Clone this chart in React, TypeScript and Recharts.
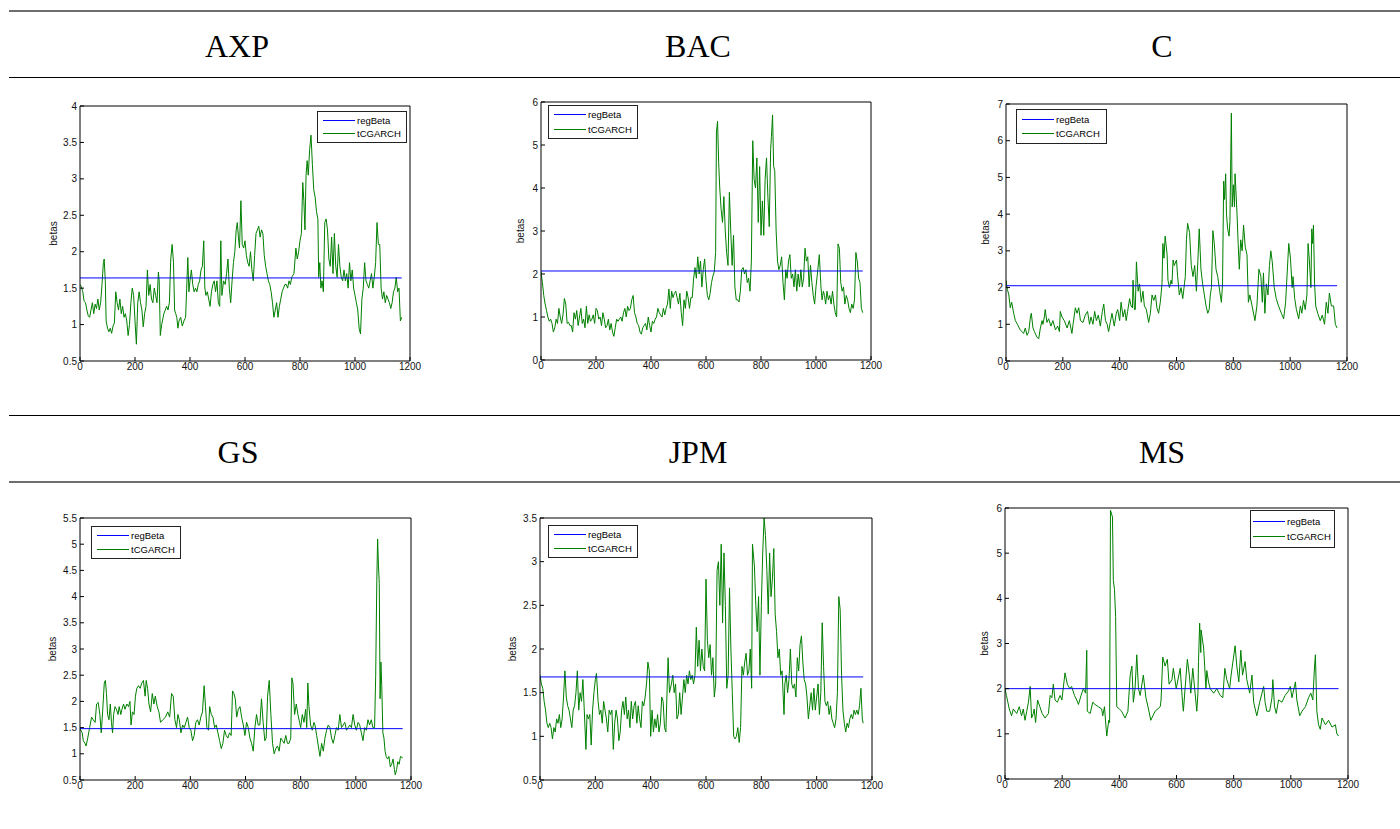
import React from 'react'
import { LineChart, Line, XAxis, YAxis, Legend } from 'recharts'

type Pt = [number, number]

// x ticks shared by all six panels
const xTicks = [0, 200, 400, 600, 800, 1000, 1200]

// regression beta (flat line) per ticker
const axpReg = 1.64
const bacReg = 2.07
const cReg = 2.05
const gsReg = 1.48
const jpmReg = 1.68
const msReg = 2.0

// y ticks
const ticksHalfTo4 = [0.5, 1, 1.5, 2, 2.5, 3, 3.5, 4]
const ticks0To6 = [0, 1, 2, 3, 4, 5, 6]
const ticks0To7 = [0, 1, 2, 3, 4, 5, 6, 7]
const ticksHalfTo55 = [0.5, 1, 1.5, 2, 2.5, 3, 3.5, 4, 4.5, 5, 5.5]
const ticksHalfTo35 = [0.5, 1, 1.5, 2, 2.5, 3, 3.5]

// tCGARCH betas, [day, beta]
const axpBeta: Pt[] = [
   [0, 1.55], [5, 1.52], [10, 1.45], [15, 1.32], [20, 1.3], [25, 1.2], [30, 1.12], [35, 1.1], [40, 1.2], [45, 1.3],
   [50, 1.15], [55, 1.28], [60, 1.22], [65, 1.35], [70, 1.2], [75, 1.3], [80, 1.55], [85, 1.85], [88, 1.9], [92, 1.6],
   [95, 1.05], [100, 0.95], [105, 0.9], [110, 0.95], [115, 0.88], [120, 0.98], [125, 1.02], [130, 1.45], [135, 1.3],
   [140, 1.2], [145, 1.35], [150, 1.15], [155, 1.25], [160, 1.1], [165, 1.15], [170, 1.05], [175, 0.85], [180, 1.0],
   [185, 1.3], [190, 1.5], [195, 1.4], [200, 1.05], [205, 0.73], [210, 1.3], [215, 1.45], [220, 1.3], [225, 1.2],
   [230, 0.97], [235, 1.15], [240, 1.25], [245, 1.75], [250, 1.4], [255, 1.55], [260, 1.35], [265, 1.3], [270, 1.5],
   [275, 1.4], [280, 1.3], [285, 1.72], [288, 1.6], [292, 0.85], [297, 1.0], [305, 1.15], [310, 1.2], [315, 1.25],
   [320, 1.2], [325, 1.3], [330, 1.9], [335, 2.1], [340, 1.85], [344, 1.2], [348, 1.15], [352, 1.1], [356, 0.95],
   [360, 1.05], [366, 1.1], [372, 0.98], [378, 1.05], [384, 1.1], [388, 1.5], [392, 1.92], [396, 1.45], [400, 1.6],
   [405, 1.75], [410, 1.55], [415, 1.45], [420, 1.5], [425, 1.45], [430, 1.55], [435, 1.6], [440, 1.75], [445, 1.8],
   [450, 2.15], [454, 1.5], [458, 1.4], [463, 1.45], [468, 1.35], [473, 1.25], [478, 1.45], [483, 1.55], [488, 1.6],
   [493, 1.45], [498, 1.6], [503, 1.3], [508, 1.25], [512, 2.15], [516, 1.4], [522, 1.6], [528, 1.55], [533, 1.7],
   [538, 1.9], [543, 1.5], [548, 1.3], [553, 1.6], [558, 1.85], [563, 2.0], [568, 2.3], [572, 2.4], [576, 2.2],
   [580, 2.05], [585, 2.7], [590, 2.1], [595, 2.05], [600, 2.15], [605, 1.95], [610, 1.85], [615, 1.8], [620, 2.0],
   [625, 1.75], [630, 1.6], [635, 1.95], [640, 2.25], [645, 2.3], [650, 2.35], [655, 2.2], [660, 2.3], [665, 2.25],
   [670, 1.95], [675, 1.8], [680, 1.7], [685, 1.6], [690, 1.55], [695, 1.45], [700, 1.3], [705, 1.1], [710, 1.2],
   [715, 1.3], [720, 1.1], [725, 1.25], [730, 1.35], [735, 1.45], [740, 1.5], [745, 1.55], [750, 1.55], [755, 1.5],
   [760, 1.6], [765, 1.55], [770, 1.65], [778, 1.7], [785, 2.05], [790, 1.9], [795, 2.0], [800, 2.15], [805, 2.25],
   [810, 2.95], [814, 2.7], [818, 2.3], [822, 3.05], [826, 3.25], [830, 3.05], [835, 3.4], [840, 3.6], [845, 3.2],
   [850, 2.85], [855, 2.75], [860, 2.55], [865, 2.45], [868, 1.65], [872, 1.85], [876, 1.5], [880, 1.6], [885, 1.45],
   [890, 2.4], [895, 2.45], [900, 2.3], [905, 1.9], [910, 1.8], [915, 2.2], [920, 1.7], [925, 2.25], [930, 1.8],
   [935, 1.65], [940, 2.1], [945, 1.8], [950, 1.65], [955, 1.6], [960, 1.75], [965, 1.6], [970, 1.7], [975, 1.5],
   [980, 1.85], [985, 1.6], [990, 1.75], [995, 1.5], [1000, 1.4], [1005, 1.3], [1010, 1.2], [1015, 0.95], [1020, 0.87],
   [1025, 1.35], [1030, 1.5], [1035, 1.85], [1040, 1.6], [1045, 1.55], [1050, 1.5], [1055, 1.6], [1060, 1.7],
   [1065, 1.5], [1070, 1.65], [1075, 1.85], [1080, 2.4], [1085, 2.1], [1090, 2.1], [1095, 1.5], [1100, 1.35],
   [1105, 1.45], [1110, 1.3], [1115, 1.4], [1120, 1.35], [1125, 1.3], [1130, 1.22], [1135, 1.3], [1140, 1.45],
   [1145, 1.5], [1150, 1.65], [1155, 1.45], [1160, 1.5], [1165, 1.05], [1170, 1.1],
]

const bacBeta: Pt[] = [
   [0, 2.05], [5, 1.8], [10, 1.5], [15, 1.3], [20, 1.15], [25, 1.0], [30, 0.9], [35, 0.95], [40, 0.85], [45, 0.65],
   [50, 0.75], [55, 0.95], [60, 0.85], [65, 1.2], [70, 1.0], [75, 0.85], [80, 1.05], [85, 1.43], [90, 1.3], [95, 0.85],
   [100, 0.88], [105, 0.8], [110, 0.8], [115, 0.65], [120, 1.1], [125, 0.95], [130, 1.15], [135, 0.8], [140, 1.0],
   [145, 1.2], [150, 0.85], [155, 0.95], [160, 0.75], [165, 1.25], [170, 0.85], [175, 1.05], [180, 0.9], [185, 0.95],
   [190, 1.05], [195, 0.85], [200, 1.2], [205, 1.15], [210, 0.95], [215, 1.0], [220, 0.8], [225, 1.1], [230, 0.95],
   [235, 0.75], [240, 0.8], [245, 0.95], [250, 0.7], [255, 0.85], [260, 0.65], [265, 0.55], [270, 0.75], [275, 0.95],
   [280, 0.9], [285, 0.95], [290, 1.0], [295, 0.9], [300, 1.1], [305, 1.2], [310, 1.0], [315, 1.25], [320, 1.15],
   [325, 1.2], [330, 1.4], [335, 1.5], [340, 1.1], [345, 1.0], [350, 0.85], [355, 0.8], [360, 0.65], [365, 0.6],
   [370, 0.75], [375, 0.8], [380, 0.85], [385, 0.7], [390, 1.0], [395, 0.8], [400, 0.65], [405, 0.9], [410, 0.85],
   [415, 0.95], [420, 1.0], [425, 1.2], [430, 1.1], [435, 1.05], [440, 1.0], [445, 1.2], [450, 1.05], [455, 1.2],
   [460, 1.3], [465, 1.65], [470, 1.2], [475, 1.6], [480, 1.45], [485, 1.55], [490, 1.6], [495, 1.45], [500, 1.3],
   [505, 1.55], [510, 1.1], [515, 0.8], [520, 1.4], [525, 1.2], [530, 1.6], [535, 1.45], [540, 1.2], [545, 1.45],
   [550, 1.45], [555, 1.9], [560, 2.15], [565, 1.9], [570, 2.4], [575, 2.0], [580, 2.3], [585, 1.7], [590, 2.1],
   [595, 2.35], [600, 1.85], [605, 1.5], [610, 1.4], [615, 1.55], [620, 1.8], [625, 1.95], [630, 2.05], [635, 2.5],
   [638, 5.3], [642, 5.55], [646, 4.6], [650, 4.0], [655, 3.5], [660, 3.2], [665, 3.8], [670, 3.0], [675, 2.5],
   [680, 2.2], [685, 3.9], [690, 3.0], [695, 2.2], [700, 2.9], [705, 1.7], [710, 1.4], [715, 1.4], [720, 1.35],
   [725, 1.6], [730, 2.1], [735, 2.15], [740, 2.0], [745, 2.1], [750, 1.8], [755, 1.9], [760, 1.6], [765, 2.3],
   [770, 5.1], [775, 4.2], [780, 4.0], [785, 4.7], [790, 3.2], [795, 4.5], [800, 2.9], [805, 3.7], [810, 2.9],
   [815, 4.2], [820, 4.7], [825, 3.8], [830, 3.1], [835, 4.9], [838, 5.2], [842, 5.7], [846, 4.5], [850, 4.4],
   [855, 3.0], [860, 2.3], [865, 2.1], [870, 2.2], [875, 2.4], [880, 1.8], [885, 1.4], [890, 2.1], [895, 1.9],
   [900, 2.3], [905, 2.45], [910, 1.9], [915, 2.0], [920, 1.7], [925, 2.1], [930, 1.6], [935, 2.0], [940, 1.7],
   [945, 2.1], [950, 1.7], [955, 1.9], [960, 2.6], [965, 2.3], [970, 2.4], [975, 1.7], [980, 2.2], [985, 1.8],
   [990, 1.5], [995, 1.3], [1000, 1.7], [1005, 2.0], [1012, 2.45], [1018, 1.7], [1022, 1.4], [1027, 1.6], [1031, 1.5],
   [1035, 1.3], [1040, 1.6], [1045, 1.4], [1050, 1.5], [1055, 1.3], [1060, 1.6], [1065, 1.3], [1070, 1.1], [1075, 1.0],
   [1080, 2.7], [1085, 2.6], [1090, 1.8], [1095, 1.6], [1100, 1.7], [1105, 1.3], [1110, 1.5], [1115, 1.4], [1120, 1.2],
   [1125, 1.1], [1130, 1.3], [1135, 1.2], [1140, 1.4], [1145, 2.5], [1150, 2.3], [1155, 1.9], [1160, 1.8], [1165, 1.2],
   [1170, 1.1],
]

const cBeta: Pt[] = [
   [0, 2.2], [5, 1.95], [10, 1.8], [15, 1.45], [20, 1.6], [27, 1.3], [33, 1.1], [40, 1.0], [50, 0.85], [56, 0.8],
   [62, 0.75], [68, 0.9], [74, 0.7], [80, 0.8], [86, 1.2], [89, 1.3], [95, 0.9], [100, 0.8], [109, 0.65], [115, 0.6],
   [121, 0.9], [127, 1.1], [130, 1.0], [135, 1.2], [138, 1.4], [144, 1.05], [150, 1.15], [158, 0.95], [165, 1.1],
   [174, 0.85], [182, 0.95], [188, 0.8], [191, 1.35], [197, 1.2], [205, 1.1], [215, 0.9], [223, 1.1], [232, 0.75],
   [236, 1.0], [244, 1.45], [250, 1.3], [256, 1.45], [262, 1.1], [271, 1.05], [279, 1.25], [287, 1.35], [294, 1.0],
   [299, 1.2], [306, 1.0], [312, 1.35], [318, 1.1], [325, 1.25], [332, 0.95], [339, 1.35], [344, 1.55], [350, 1.1],
   [356, 1.0], [361, 0.8], [367, 1.05], [373, 1.3], [381, 0.95], [388, 1.3], [393, 1.4], [400, 1.1], [405, 1.6],
   [412, 1.2], [418, 1.4], [423, 1.1], [428, 1.35], [435, 1.7], [440, 1.5], [445, 1.45], [447, 2.2], [452, 1.4],
   [455, 1.4], [459, 2.7], [465, 1.9], [470, 2.1], [476, 1.6], [482, 1.9], [487, 1.5], [494, 1.4], [502, 1.05],
   [508, 1.3], [514, 1.8], [520, 1.65], [526, 1.8], [531, 1.45], [537, 1.3], [543, 1.6], [549, 2.1], [552, 3.2],
   [556, 2.8], [560, 3.4], [567, 2.9], [570, 2.2], [575, 2.0], [581, 2.2], [584, 2.1], [588, 2.75], [592, 2.6],
   [600, 2.75], [604, 2.3], [610, 1.8], [616, 2.0], [622, 1.7], [628, 2.1], [631, 2.3], [635, 3.3], [639, 3.75],
   [646, 3.5], [652, 2.6], [658, 2.3], [664, 2.6], [670, 1.9], [675, 2.7], [680, 3.6], [686, 2.5], [692, 2.1],
   [698, 1.8], [704, 1.5], [710, 1.3], [715, 1.4], [719, 1.8], [723, 2.0], [728, 3.55], [733, 3.2], [739, 2.5],
   [745, 2.3], [752, 1.9], [758, 1.6], [762, 2.1], [766, 4.9], [769, 4.4], [773, 5.1], [776, 4.0], [780, 3.6],
   [785, 3.4], [788, 3.8], [793, 6.75], [796, 4.2], [800, 4.8], [804, 4.2], [806, 5.1], [810, 4.5], [813, 4.0],
   [817, 3.2], [821, 2.5], [826, 3.3], [831, 3.0], [836, 3.7], [842, 3.1], [848, 2.9], [853, 1.6], [858, 1.8],
   [866, 1.5], [876, 1.1], [883, 1.5], [890, 2.5], [897, 2.3], [902, 1.6], [906, 2.4], [911, 1.3], [916, 2.1],
   [922, 1.8], [927, 2.6], [932, 3.0], [937, 2.7], [944, 2.0], [951, 1.7], [959, 1.5], [969, 1.3], [977, 1.15],
   [984, 1.6], [995, 3.2], [1001, 2.8], [1007, 2.0], [1010, 2.3], [1016, 1.7], [1022, 1.4], [1030, 1.15], [1036, 1.5],
   [1041, 1.3], [1047, 1.65], [1053, 1.4], [1059, 1.8], [1063, 3.2], [1067, 2.8], [1070, 2.4], [1073, 2.0],
   [1076, 3.6], [1079, 3.2], [1082, 3.7], [1086, 2.1], [1090, 1.5], [1097, 1.3], [1106, 1.1], [1113, 1.25],
   [1121, 1.0], [1127, 1.6], [1133, 1.3], [1138, 1.85], [1145, 1.5], [1153, 1.5], [1159, 1.0], [1165, 0.9],
]

const gsBeta: Pt[] = [
   [0, 1.48], [8, 1.4], [12, 1.25], [18, 1.2], [22, 1.15], [28, 1.3], [35, 1.5], [42, 1.7], [48, 1.65], [55, 1.6],
   [60, 1.95], [66, 1.98], [72, 1.75], [77, 1.4], [82, 1.8], [88, 2.35], [92, 2.4], [96, 2.15], [100, 1.75],
   [105, 1.65], [110, 1.95], [114, 1.6], [118, 1.4], [122, 1.75], [127, 1.9], [132, 1.85], [138, 1.75], [142, 1.9],
   [148, 1.75], [152, 1.85], [158, 1.95], [163, 1.85], [170, 1.95], [176, 1.9], [181, 2.0], [185, 1.55], [190, 1.8],
   [196, 1.75], [201, 2.1], [206, 2.25], [212, 2.3], [218, 2.25], [224, 2.35], [230, 2.4], [236, 2.1], [240, 2.4],
   [245, 2.25], [250, 1.95], [256, 1.8], [262, 2.15], [268, 1.95], [273, 2.1], [280, 1.9], [286, 1.8], [292, 1.6],
   [300, 1.65], [310, 1.7], [318, 1.8], [325, 1.7], [332, 2.15], [338, 2.1], [344, 1.65], [350, 1.5], [355, 1.75],
   [360, 1.65], [366, 1.4], [372, 1.55], [378, 1.5], [384, 1.6], [390, 1.7], [396, 1.5], [402, 1.45], [408, 1.25],
   [414, 1.35], [420, 1.6], [426, 1.65], [432, 1.55], [438, 1.7], [444, 1.8], [450, 2.3], [455, 1.9], [460, 1.5],
   [466, 1.45], [470, 1.9], [476, 1.75], [482, 1.7], [488, 1.5], [494, 1.55], [500, 1.4], [506, 1.25], [512, 1.1],
   [518, 1.2], [524, 1.45], [530, 1.35], [536, 1.3], [542, 1.4], [548, 1.35], [553, 2.2], [558, 2.15], [563, 2.05],
   [568, 1.7], [574, 1.85], [580, 1.9], [586, 1.7], [592, 1.55], [598, 1.35], [604, 1.6], [610, 1.5], [616, 1.3],
   [622, 1.2], [628, 1.05], [634, 1.5], [640, 1.75], [646, 1.55], [652, 1.55], [658, 2.05], [664, 1.6], [670, 1.25],
   [675, 1.3], [680, 2.1], [686, 2.4], [692, 1.75], [698, 1.2], [704, 1.0], [710, 1.1], [716, 1.15], [722, 1.05],
   [728, 1.3], [734, 1.25], [740, 1.2], [746, 1.35], [752, 1.2], [758, 1.2], [764, 1.3], [768, 2.45], [772, 2.35],
   [778, 1.75], [784, 1.95], [790, 1.75], [796, 1.6], [800, 1.5], [806, 1.75], [812, 1.6], [818, 1.85], [822, 1.5],
   [826, 2.35], [830, 1.9], [836, 1.55], [842, 1.45], [848, 1.6], [852, 1.55], [858, 1.35], [864, 1.15], [870, 0.95],
   [876, 1.2], [882, 1.05], [888, 1.3], [894, 1.45], [900, 1.55], [906, 1.5], [912, 1.3], [918, 1.2], [924, 1.35],
   [930, 1.5], [936, 1.45], [942, 1.75], [948, 1.5], [954, 1.55], [960, 1.6], [966, 1.45], [972, 1.5], [978, 1.55],
   [984, 1.5], [990, 1.75], [996, 1.55], [1002, 1.45], [1008, 1.6], [1014, 1.55], [1020, 1.4], [1026, 1.25],
   [1032, 1.5], [1038, 1.45], [1044, 1.65], [1050, 1.55], [1056, 1.65], [1062, 1.5], [1068, 1.5], [1072, 2.5],
   [1076, 4.3], [1079, 5.1], [1082, 4.6], [1085, 4.25], [1088, 2.05], [1091, 2.75], [1094, 2.3], [1098, 1.4],
   [1102, 1.3], [1106, 1.05], [1110, 0.95], [1115, 0.9], [1120, 0.95], [1125, 0.75], [1130, 0.8], [1135, 0.9],
   [1140, 0.7], [1143, 0.6], [1148, 0.7], [1152, 0.85], [1157, 0.8], [1162, 0.95], [1170, 0.92],
]

const jpmBeta: Pt[] = [
   [0, 1.7], [5, 1.6], [10, 1.55], [15, 1.4], [20, 1.3], [25, 1.15], [30, 1.1], [35, 1.15], [40, 1.1], [45, 0.97],
   [50, 1.1], [55, 1.05], [60, 1.2], [65, 1.15], [70, 1.25], [75, 1.1], [80, 1.2], [85, 1.45], [90, 1.75], [95, 1.45],
   [100, 1.35], [105, 1.3], [110, 1.2], [115, 1.1], [120, 1.3], [125, 1.35], [130, 1.5], [135, 1.75], [140, 1.3],
   [145, 1.5], [150, 1.4], [155, 1.65], [160, 1.3], [166, 0.85], [170, 1.25], [175, 1.2], [180, 1.25], [185, 0.9],
   [190, 1.3], [195, 1.5], [200, 1.65], [204, 1.72], [210, 1.4], [215, 1.25], [220, 1.3], [225, 1.15], [230, 1.4],
   [235, 1.3], [240, 1.2], [245, 1.05], [250, 1.3], [255, 1.25], [260, 1.3], [265, 0.85], [270, 1.15], [275, 1.3],
   [280, 1.2], [285, 0.95], [290, 1.05], [295, 1.3], [300, 1.4], [305, 1.25], [310, 1.45], [315, 1.2], [320, 1.3],
   [325, 1.1], [330, 1.4], [335, 1.2], [340, 1.35], [345, 1.4], [350, 1.15], [355, 1.35], [360, 1.2], [365, 1.1],
   [370, 1.4], [375, 1.35], [380, 1.45], [385, 1.6], [390, 1.85], [395, 1.75], [400, 1.0], [405, 1.3], [410, 1.05],
   [415, 1.2], [420, 1.1], [425, 1.25], [430, 1.05], [435, 1.15], [440, 1.45], [445, 1.4], [450, 1.1], [455, 1.05],
   [460, 1.6], [463, 1.9], [468, 1.5], [475, 1.6], [480, 1.7], [485, 1.5], [490, 1.6], [495, 1.2], [500, 1.25],
   [505, 1.5], [510, 1.25], [515, 1.45], [520, 1.65], [525, 1.5], [530, 1.7], [535, 1.6], [540, 1.75], [545, 1.65],
   [550, 1.7], [555, 1.6], [560, 1.7], [565, 2.25], [570, 1.8], [575, 2.1], [580, 1.75], [585, 2.0], [590, 1.8],
   [595, 1.75], [600, 2.8], [605, 2.1], [610, 1.9], [615, 2.05], [620, 1.7], [625, 1.9], [630, 1.45], [635, 1.6],
   [640, 2.9], [645, 3.0], [650, 2.5], [655, 3.2], [660, 2.3], [665, 3.1], [670, 2.5], [675, 1.55], [680, 1.7],
   [685, 2.7], [690, 2.0], [695, 1.5], [700, 1.0], [705, 0.97], [710, 1.0], [715, 1.1], [720, 0.93], [725, 1.1],
   [730, 1.8], [735, 1.7], [740, 1.85], [745, 1.95], [750, 1.7], [755, 1.75], [760, 2.0], [765, 1.55], [768, 3.2],
   [775, 2.95], [780, 2.5], [785, 2.2], [790, 2.6], [795, 1.7], [800, 2.5], [805, 3.1], [810, 3.5], [815, 3.3],
   [820, 2.9], [825, 2.4], [830, 3.1], [835, 2.6], [840, 2.8], [845, 3.15], [850, 2.4], [855, 2.2], [860, 1.9],
   [865, 2.0], [870, 1.7], [875, 1.75], [882, 1.25], [885, 1.6], [890, 1.7], [895, 1.5], [900, 1.65], [905, 2.0],
   [910, 1.6], [915, 1.55], [920, 1.6], [925, 1.45], [930, 1.9], [935, 1.75], [940, 2.05], [945, 2.15], [950, 1.85],
   [955, 1.65], [960, 1.6], [965, 1.45], [970, 1.2], [975, 1.35], [980, 1.5], [985, 1.3], [990, 1.55], [995, 1.3],
   [1000, 1.45], [1005, 1.6], [1010, 1.25], [1015, 1.5], [1020, 2.3], [1025, 1.8], [1030, 1.4], [1035, 1.35],
   [1040, 1.4], [1045, 1.25], [1050, 1.35], [1055, 1.2], [1060, 1.15], [1065, 1.1], [1070, 1.2], [1075, 1.5],
   [1080, 2.6], [1085, 2.45], [1090, 1.7], [1095, 1.3], [1100, 1.15], [1105, 1.05], [1110, 1.15], [1115, 1.1],
   [1120, 1.2], [1125, 1.25], [1130, 1.2], [1135, 1.3], [1140, 1.25], [1145, 1.3], [1150, 1.25], [1155, 1.35],
   [1160, 1.55], [1165, 1.2], [1168, 1.15],
]

const msBeta: Pt[] = [
   [0, 2.0], [5, 1.85], [10, 1.7], [15, 1.55], [23, 1.4], [29, 1.55], [41, 1.45], [50, 1.6], [58, 1.4], [64, 1.55],
   [70, 1.3], [76, 1.5], [82, 1.7], [88, 2.05], [93, 1.35], [99, 1.45], [102, 1.55], [107, 1.25], [114, 1.75],
   [122, 1.6], [130, 1.45], [140, 1.35], [152, 1.45], [158, 1.85], [164, 1.8], [169, 2.1], [175, 1.75], [183, 1.7],
   [193, 1.85], [199, 1.75], [210, 2.35], [218, 2.1], [227, 2.0], [233, 2.05], [243, 1.85], [251, 1.75], [257, 1.65],
   [266, 1.85], [274, 2.0], [282, 1.9], [286, 2.85], [288, 1.5], [298, 1.45], [307, 1.7], [315, 1.65], [327, 1.6],
   [338, 1.55], [342, 1.4], [348, 1.6], [351, 1.35], [356, 0.95], [359, 1.1], [363, 1.3], [366, 1.25], [369, 5.95],
   [376, 5.8], [379, 4.4], [383, 4.2], [387, 3.6], [391, 1.6], [400, 1.55], [408, 1.5], [420, 1.35], [430, 1.5],
   [438, 2.3], [444, 2.5], [449, 1.7], [455, 2.0], [461, 2.75], [467, 2.0], [473, 1.85], [484, 2.3], [493, 1.8],
   [502, 1.55], [510, 1.3], [525, 1.5], [543, 1.6], [546, 1.75], [552, 2.7], [560, 2.5], [568, 2.65], [574, 2.1],
   [584, 2.2], [589, 2.45], [599, 2.0], [613, 2.45], [621, 1.7], [624, 1.5], [630, 2.0], [638, 2.65], [645, 2.3],
   [650, 1.9], [657, 2.45], [671, 1.5], [675, 1.9], [677, 2.6], [681, 3.45], [685, 2.8], [686, 3.3], [695, 2.9],
   [703, 2.0], [706, 2.4], [712, 2.15], [718, 2.0], [730, 1.9], [741, 2.0], [753, 1.85], [762, 1.8], [769, 2.45],
   [776, 2.2], [786, 2.0], [791, 2.3], [805, 2.95], [811, 2.5], [818, 2.15], [825, 2.85], [831, 2.3], [840, 2.6],
   [846, 2.2], [856, 1.9], [864, 2.3], [870, 1.7], [877, 1.5], [881, 1.4], [891, 1.7], [899, 1.9], [905, 2.05],
   [910, 1.7], [916, 1.5], [926, 1.5], [934, 1.8], [937, 2.2], [943, 1.6], [949, 1.45], [957, 1.75], [969, 1.7],
   [980, 1.85], [992, 1.95], [998, 2.05], [1004, 1.8], [1016, 2.15], [1021, 1.75], [1031, 1.4], [1039, 1.5],
   [1051, 1.6], [1062, 1.8], [1070, 1.9], [1077, 1.75], [1083, 2.5], [1086, 2.75], [1091, 1.5], [1097, 1.2],
   [1103, 1.1], [1109, 1.35], [1121, 1.2], [1132, 1.3], [1144, 1.15], [1156, 1.2], [1161, 1.0], [1167, 0.95],
]

const tcgarchColor = '#008000'
const regColor = '#0000ff'
const legendItems = [
   { name: 'regBeta', color: regColor },
   { name: 'tCGARCH', color: tcgarchColor },
]

const sans = '"Liberation Sans", Arial, Helvetica, sans-serif'
const serif = '"Liberation Serif", "Times New Roman", serif'

type Box = { l: number; t: number; r: number; b: number }
type LegendPos = { l: number; t: number; w: number; h: number; pad: number }

type Panel = {
   name: string
   beta: Pt[]
   reg: number
   yDomain: [number, number]
   yTicks: number[]
   plot: Box
   legend: LegendPos
   labelGap: number
   titleX: number
   titleY: number
}

const panels: Panel[] = [
   { name: 'AXP', beta: axpBeta, reg: axpReg, yDomain: [0.5, 4], yTicks: ticksHalfTo4, plot: { l: 80, t: 106, r: 410, b: 361 }, legend: { l: 317, t: 111, w: 90, h: 32, pad: 5 }, labelGap: 27, titleX: 237, titleY: 30 },
   { name: 'BAC', beta: bacBeta, reg: bacReg, yDomain: [0, 6], yTicks: ticks0To6, plot: { l: 541, t: 102, r: 871, b: 360 }, legend: { l: 548, t: 105, w: 90, h: 34, pad: 5 }, labelGap: 21, titleX: 698, titleY: 30 },
   { name: 'C', beta: cBeta, reg: cReg, yDomain: [0, 7], yTicks: ticks0To7, plot: { l: 1006, t: 104, r: 1347, b: 361 }, legend: { l: 1016, t: 109, w: 91, h: 35, pad: 5 }, labelGap: 21, titleX: 1162, titleY: 30 },
   { name: 'GS', beta: gsBeta, reg: gsReg, yDomain: [0.5, 5.5], yTicks: ticksHalfTo55, plot: { l: 80, t: 518, r: 411, b: 780 }, legend: { l: 91, t: 526, w: 90, h: 33, pad: 5 }, labelGap: 28, titleX: 238, titleY: 436 },
   { name: 'JPM', beta: jpmBeta, reg: jpmReg, yDomain: [0.5, 3.5], yTicks: ticksHalfTo35, plot: { l: 540, t: 518, r: 872, b: 780 }, legend: { l: 548, t: 525, w: 90, h: 33, pad: 5 }, labelGap: 28, titleX: 698, titleY: 436 },
   { name: 'MS', beta: msBeta, reg: msReg, yDomain: [0, 6], yTicks: ticks0To6, plot: { l: 1005, t: 508, r: 1348, b: 779 }, legend: { l: 1250, t: 510, w: 85, h: 38, pad: 2 }, labelGap: 21, titleX: 1162, titleY: 436 },
]

const rules = [
   { y: 10, h: 2, color: '#6e6e6e' },
   { y: 77, h: 1, color: '#000' },
   { y: 415, h: 1, color: '#000' },
   { y: 481, h: 2, color: '#6e6e6e' },
]

const YW = 40
const MT = 10
const MR = 16
const XH = 22

const LegendBox = ({ w, h, pad }: { w: number; h: number; pad: number }) => (
   <div
      style={ {
         width: w,
         height: h,
         boxSizing: 'border-box',
         border: '1px solid #222',
         background: '#fff',
         display: 'flex',
         flexDirection: 'column',
         justifyContent: 'space-evenly',
         fontFamily: sans,
         fontSize: 9.5,
         color: '#000',
      } }
   >
      { legendItems.map(it => (
         <div key={ it.name } style={ { display: 'flex', alignItems: 'center', height: 11 } }>
            <span style={ { display: 'inline-block', width: 32, height: 1, marginLeft: pad, background: it.color } } />
            <span style={ { marginLeft: 2, lineHeight: '11px' } }>{ it.name }</span>
         </div>
      )) }
   </div>
)

const BetaPanel = ({ p }: { p: Panel }) => {
   const chartLeft = p.plot.l - YW
   const chartTop = p.plot.t - MT
   const width = p.plot.r - p.plot.l + YW + MR
   const height = p.plot.b - p.plot.t + MT + XH
   const data = p.beta.map(([day, beta]) => ({ day, beta }))
   const regData = [{ day: 0, beta: p.reg }, { day: p.beta[p.beta.length - 1][0], beta: p.reg }]
   const tickStyle = { fontSize: 10, fill: '#111', fontFamily: sans }
   return (
      <div style={ { position: 'absolute', left: chartLeft, top: chartTop } }>
         <LineChart width={ width } height={ height } margin={ { top: MT - 1, right: MR - 1, bottom: 0, left: 0 } }>
            <XAxis
               type="number"
               dataKey="day"
               domain={ [0, 1200] }
               ticks={ xTicks }
               interval={ 0 }
               height={ XH }
               tickSize={ -4 }
               tickMargin={ 6 }
               tick={ tickStyle }
               stroke="#000"
               allowDataOverflow
            />
            <XAxis
               xAxisId="top"
               orientation="top"
               type="number"
               dataKey="day"
               domain={ [0, 1200] }
               ticks={ xTicks }
               interval={ 0 }
               height={ 1 }
               tickSize={ -4 }
               tick={ false }
               stroke="#000"
               allowDataOverflow
            />
            <YAxis
               type="number"
               domain={ p.yDomain }
               ticks={ p.yTicks }
               interval={ 0 }
               width={ YW }
               tickSize={ -4 }
               tickMargin={ 7 }
               tick={ tickStyle }
               stroke="#000"
               allowDataOverflow
               label={ {
                  value: 'betas',
                  angle: -90,
                  position: 'insideLeft',
                  offset: YW - p.labelGap,
                  style: { textAnchor: 'middle', fontSize: 10, fill: '#111', fontFamily: sans },
               } }
            />
            <YAxis
               yAxisId="right"
               orientation="right"
               type="number"
               domain={ p.yDomain }
               ticks={ p.yTicks }
               interval={ 0 }
               width={ 1 }
               tickSize={ -4 }
               tick={ false }
               stroke="#000"
               allowDataOverflow
            />
            <Legend
               layout="horizontal"
               verticalAlign="middle"
               align="center"
               wrapperStyle={ { left: p.legend.l - chartLeft, top: p.legend.t - chartTop, width: p.legend.w, height: p.legend.h } }
               content={ () => <LegendBox w={ p.legend.w } h={ p.legend.h } pad={ p.legend.pad } /> }
            />
            <Line
               data={ data }
               dataKey="beta"
               type="linear"
               stroke={ tcgarchColor }
               strokeWidth={ 1 }
               dot={ false }
               activeDot={ false }
               isAnimationActive={ false }
               legendType="none"
            />
            <Line
               data={ regData }
               dataKey="beta"
               xAxisId="top"
               yAxisId="right"
               type="linear"
               stroke={ regColor }
               strokeWidth={ 1 }
               dot={ false }
               activeDot={ false }
               isAnimationActive={ false }
               legendType="none"
            />
         </LineChart>
      </div>
   )
}

export default function App() {
   return (
      <div style={ { position: 'absolute', left: 0, top: 0, width: 1400, height: 829, background: '#fff', overflow: 'hidden' } }>
         { rules.map(r => (
            <div key={ r.y } style={ { position: 'absolute', left: 9, top: r.y, width: 1391, height: r.h, background: r.color } } />
         )) }
         { panels.map(p => (
            <div
               key={ `t-${p.name}` }
               style={ {
                  position: 'absolute',
                  left: p.titleX - 100,
                  top: p.titleY,
                  width: 200,
                  textAlign: 'center',
                  fontFamily: serif,
                  fontSize: 32,
                  lineHeight: '32px',
                  color: '#000',
               } }
            >
               { p.name }
            </div>
         )) }
         { panels.map(p => <BetaPanel key={ p.name } p={ p } />) }
      </div>
   )
}
